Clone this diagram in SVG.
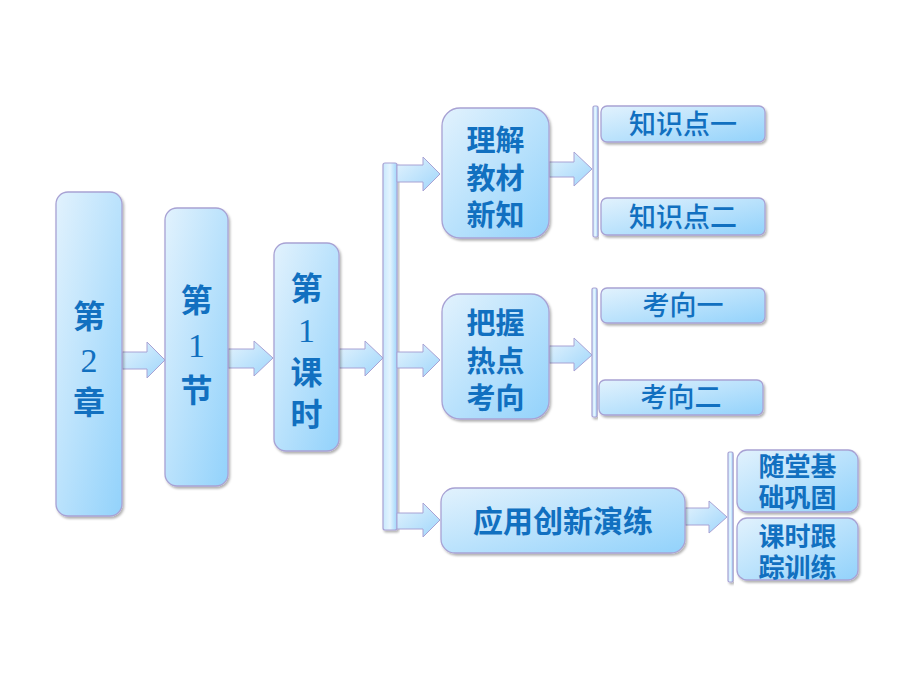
<svg xmlns="http://www.w3.org/2000/svg" width="920" height="690" viewBox="0 0 920 690">
<defs>
<linearGradient id="g" x1="0" y1="0" x2="1" y2="1">
<stop offset="0" stop-color="#e2f2fd"/>
<stop offset="1" stop-color="#92d2fb"/>
</linearGradient>
<linearGradient id="ga" x1="0" y1="0" x2="1" y2="1">
<stop offset="0" stop-color="#e4f3fd"/>
<stop offset="1" stop-color="#9fd6fb"/>
</linearGradient>
<linearGradient id="gb" x1="0" y1="0" x2="1" y2="0">
<stop offset="0" stop-color="#c8e8fd"/>
<stop offset="0.5" stop-color="#e4f4fe"/>
<stop offset="1" stop-color="#9fd6fb"/>
</linearGradient>
<filter id="sh" x="-10%" y="-10%" width="130%" height="130%">
<feDropShadow dx="1.5" dy="2" stdDeviation="1.2" flood-color="#000" flood-opacity="0.3"/>
</filter>
</defs>
<style>
.box{fill:url(#g);stroke:#a8a2d4;stroke-width:1.3;filter:url(#sh)}
.bar{fill:url(#gb);stroke:#a8a2d4;stroke-width:1.2;filter:url(#sh)}
.arr{fill:url(#ga);stroke:#a8a2d4;stroke-width:1}
.t{fill:#1170c0;font-family:"Noto Sans CJK SC","Noto Sans",sans-serif;font-weight:600;text-anchor:middle}
.m{fill:#1170c0;font-family:"Noto Sans CJK SC","Noto Sans",sans-serif;font-weight:500;text-anchor:middle}
.s{fill:#1170c0;font-family:"Liberation Serif","Noto Sans CJK SC",serif;text-anchor:middle}
.c{fill:#1170c0;font-family:"Noto Sans CJK SC",serif;font-weight:600;text-anchor:middle}
</style>
<g id="connectors">
<path class="arr" d="M122,352 H147 V342 L165,360 L147,378 V369 H122 Z"/>
<path class="arr" d="M228,349 H254 V341 L273,358 L254,376 V368 H228 Z"/>
<path class="arr" d="M339,349 H365 V341 L383,358 L365,376 V368 H339 Z"/>
<rect class="bar" x="383" y="163" width="14" height="367" rx="2"/>
<path class="arr" d="M397,165 H423 V157 L440,174 L423,191 V182 H397 Z"/>
<path class="arr" d="M397,352 H423 V344 L440,360 L423,377 V368 H397 Z"/>
<path class="arr" d="M397,513 H423 V503 L440,520 L423,537 V529 H397 Z"/>
<path class="arr" d="M549,162 H574 V152 L592,169 L574,186 V177 H549 Z"/>
<path class="arr" d="M549,346 H574 V338 L592,355 L574,371 V363 H549 Z"/>
<path class="arr" d="M685,508 H709 V501 L727,517 L709,533 V525 H685 Z"/>
<rect class="bar" x="593" y="106" width="5" height="131" rx="1.5"/>
<rect class="bar" x="592" y="288" width="5" height="129" rx="1.5"/>
<rect class="bar" x="728" y="452" width="5" height="130" rx="1.5"/>
</g>
<g id="n-chapter">
<rect class="box" x="56" y="192" width="66" height="324" rx="12"/>
<text class="c" x="89" y="328" font-size="32">第</text>
<text class="s" x="89" y="372" font-size="34">2</text>
<text class="c" x="89" y="414" font-size="32">章</text>
</g>
<g id="n-section">
<rect class="box" x="165" y="208" width="63" height="278" rx="12"/>
<text class="c" x="196.5" y="312" font-size="32">第</text>
<text class="s" x="196.5" y="357" font-size="34">1</text>
<text class="c" x="196.5" y="402" font-size="32">节</text>
</g>
<g id="n-lesson">
<rect class="box" x="274" y="243" width="65" height="208" rx="12"/>
<text class="c" x="306.5" y="300" font-size="32">第</text>
<text class="s" x="306.5" y="342" font-size="34">1</text>
<text class="c" x="306.5" y="384" font-size="32">课</text>
<text class="c" x="306.5" y="426" font-size="32">时</text>
</g>
<g id="n-understand">
<rect class="box" x="442" y="108" width="107" height="130" rx="18"/>
<text class="t" x="495.5" y="151" font-size="29">理解</text>
<text class="t" x="495.5" y="189" font-size="29">教材</text>
<text class="t" x="495.5" y="226" font-size="29">新知</text>
</g>
<g id="n-k1">
<rect class="box" x="601" y="106" width="164" height="36" rx="6"/>
<text class="m" x="683" y="134" font-size="27">知识点一</text>
</g>
<g id="n-k2">
<rect class="box" x="601" y="198" width="164" height="37" rx="6"/>
<text class="m" x="683" y="227" font-size="27">知识点二</text>
</g>
<g id="n-grasp">
<rect class="box" x="442" y="294" width="107" height="125" rx="18"/>
<text class="t" x="495.5" y="334" font-size="29">把握</text>
<text class="t" x="495.5" y="372" font-size="29">热点</text>
<text class="t" x="495.5" y="409" font-size="29">考向</text>
</g>
<g id="n-d1">
<rect class="box" x="601" y="288" width="164" height="35" rx="6"/>
<text class="m" x="683" y="315" font-size="27">考向一</text>
</g>
<g id="n-d2">
<rect class="box" x="599" y="380" width="164" height="35" rx="6"/>
<text class="m" x="681" y="407" font-size="27">考向二</text>
</g>
<g id="n-apply">
<rect class="box" x="441" y="488" width="244" height="65" rx="14"/>
<text class="t" x="563" y="532" font-size="30">应用创新演练</text>
</g>
<g id="n-r1">
<rect class="box" x="737" y="450" width="121" height="62" rx="10"/>
<text class="t" x="797.5" y="476" font-size="26">随堂基</text>
<text class="t" x="797.5" y="507" font-size="26">础巩固</text>
</g>
<g id="n-r2">
<rect class="box" x="737" y="518" width="121" height="62" rx="10"/>
<text class="t" x="797.5" y="546" font-size="26">课时跟</text>
<text class="t" x="797.5" y="577" font-size="26">踪训练</text>
</g>
</svg>
